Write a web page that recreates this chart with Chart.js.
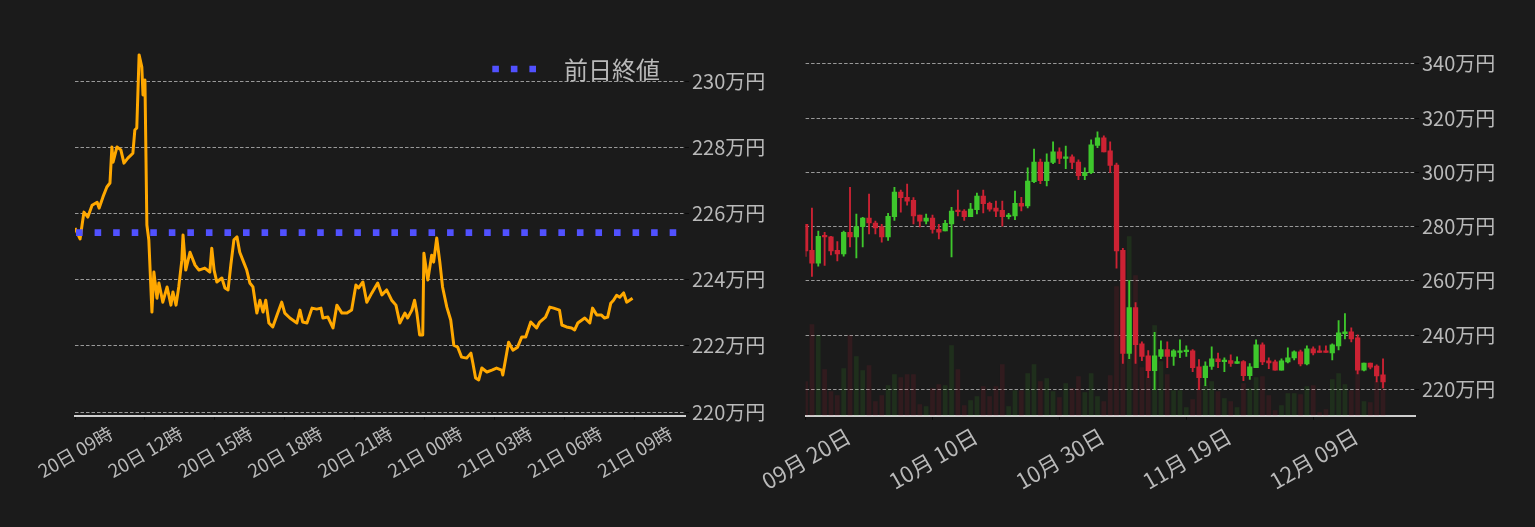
<!DOCTYPE html>
<html lang="ja">
<head>
<meta charset="utf-8">
<title>価格チャート</title>
<script src="https://cdn.jsdelivr.net/npm/chart.js@4.4.1/dist/chart.umd.min.js"></script>
<style>
  html, body { margin: 0; padding: 0; background: #1b1b1b; overflow: hidden; }
  #wrap { position: relative; width: 1535px; height: 527px; }
  canvas { position: absolute; left: 0; top: 0; width: 1535px; height: 527px; }
</style>
</head>
<body>
<div id="wrap">
  <canvas id="intraday" width="1535" height="527"></canvas>
  <canvas id="daily" width="1535" height="527"></canvas>
</div>
<script>
// === Intraday (20日 09時 〜 21日 09時), minutes after 20日 09:00 ===
const intradayMinutes = [
  0, 13, 23, 33, 44, 57, 62, 72, 82, 90,
  95, 98, 108, 118, 126, 136, 149, 154, 159, 165,
  172, 175, 180, 185, 190, 198, 203, 211, 216, 226,
  237, 247, 252, 260, 267, 275, 278, 285, 296, 309,
  319, 334, 347, 352, 358, 365, 378, 386, 394, 401,
  409, 417, 424, 435, 442, 450, 458, 468, 476, 484,
  491, 499, 509, 520, 532, 540, 553, 571, 579, 586,
  597, 610, 622, 633, 638, 651, 664, 674, 687, 700,
  712, 723, 730, 741, 751, 764, 779, 790, 802, 815,
  826, 836, 849, 856, 867, 874, 880, 887, 895, 898,
  908, 918, 923, 931, 939, 946, 957, 967, 975, 985,
  995, 1008, 1019, 1024, 1031, 1039, 1047, 1060, 1073, 1085,
  1098, 1101, 1111, 1116, 1127, 1139, 1150, 1160, 1173, 1188,
  1196, 1211, 1222, 1232, 1247, 1253, 1265, 1278, 1286, 1294,
  1312, 1325, 1332, 1343, 1355, 1363, 1371, 1379, 1386, 1394,
  1402, 1412, 1420, 1435
];
// price in 万円
const intradayPrices = [
  225.56, 225.23, 226.04, 225.89, 226.25, 226.34, 226.16, 226.50, 226.80, 226.92,
  228.01, 227.55, 228.01, 227.92, 227.52, 227.67, 227.82, 228.52, 228.58, 230.79,
  230.42, 229.58, 230.03, 225.65, 225.20, 223.02, 224.23, 223.44, 223.90, 223.32,
  223.78, 223.23, 223.63, 223.23, 223.78, 224.59, 225.35, 224.29, 224.83, 224.44,
  224.29, 224.35, 224.23, 224.95, 224.29, 223.93, 224.05, 223.75, 223.69, 224.44,
  225.20, 225.29, 224.83, 224.50, 224.29, 223.90, 223.78, 222.99, 223.38, 223.02,
  223.38, 222.69, 222.57, 222.93, 223.32, 222.99, 222.84, 222.69, 223.08, 222.72,
  222.69, 223.14, 223.11, 223.14, 222.84, 222.87, 222.54, 223.23, 222.99, 222.99,
  223.08, 223.84, 223.75, 223.93, 223.32, 223.60, 223.90, 223.54, 223.69, 223.38,
  223.23, 222.69, 222.99, 222.84, 223.08, 223.38, 222.99, 222.33, 222.33, 224.80,
  223.99, 224.74, 224.53, 225.26, 224.53, 223.78, 223.17, 222.78, 222.02, 221.96,
  221.66, 221.63, 221.78, 221.48, 221.03, 220.97, 221.33, 221.21, 221.27, 221.33,
  221.27, 221.12, 221.78, 222.11, 221.87, 221.96, 222.27, 222.27, 222.72, 222.54,
  222.72, 222.87, 223.17, 223.14, 223.08, 222.63, 222.57, 222.54, 222.48, 222.69,
  222.84, 222.69, 223.14, 222.93, 222.93, 222.84, 222.87, 223.29, 223.38, 223.53,
  223.47, 223.60, 223.32, 223.44
];
const prevClose = 225.42;
const prevCloseLabel = '前日終値';
const intradayTickMinutes = [0, 180, 360, 540, 720, 900, 1080, 1260, 1440];
const intradayTickLabels = ['20日 09時', '20日 12時', '20日 15時', '20日 18時', '20日 21時',
                            '21日 00時', '21日 03時', '21日 06時', '21日 09時'];
const intradayPriceTicks = [220, 222, 224, 226, 228, 230];

// === Daily candles, 09月20日 〜 12月20日 (万円) ===
const candleOpen = [
  280.85, 271.2, 266.5, 276.4, 276.2, 271.2, 269.9, 277.9, 276.2, 280.0,
  283.1, 281.3, 279.9, 276.2, 283.6, 292.7, 290.8, 289.7, 284.2, 282.0,
  283.1, 279.0, 278.4, 281.0, 285.7, 285.7, 283.6, 286.2, 291.2, 288.6,
  286.8, 286.0, 283.6, 283.9, 288.6, 287.6, 296.5, 303.8, 296.9, 303.6,
  307.5, 305.1, 305.7, 303.8, 298.8, 299.9, 309.9, 312.7, 307.9, 302.7,
  271.2, 233.2, 250.1, 236.8, 232.3, 226.9, 232.1, 234.6, 232.1, 233.6,
  233.9, 234.2, 228.3, 224.3, 228.4, 231.2, 230.2, 230.6, 229.5, 230.2,
  225.0, 228.0, 236.4, 230.5, 230.1, 227.1, 230.1, 231.6, 233.8, 229.4,
  234.9, 233.8, 233.8, 233.4, 236.0, 240.5, 241.2, 239.0, 227.1, 229.7,
  228.6, 225.3
];
const candleHigh = [
  280.85, 286.8, 278.3, 277.9, 276.4, 274.5, 278.3, 294.5, 284.6, 283.4,
  292.0, 282.0, 280.85, 284.9, 294.5, 293.4, 295.7, 290.7, 284.2, 284.6,
  284.2, 280.85, 282.3, 287.1, 293.4, 286.3, 288.6, 292.3, 293.4, 289.0,
  289.4, 289.4, 284.9, 293.1, 290.8, 301.6, 308.6, 304.9, 306.8, 311.2,
  309.0, 309.7, 306.4, 304.6, 301.6, 312.0, 314.9, 313.4, 311.2, 303.4,
  272.0, 260.1, 252.0, 237.5, 234.3, 240.97, 237.9, 237.5, 234.6, 238.2,
  236.0, 234.6, 231.0, 230.1, 235.7, 233.4, 231.6, 232.7, 231.96, 230.6,
  229.5, 238.2, 237.1, 231.6, 230.8, 231.2, 235.3, 234.2, 234.5, 236.0,
  235.7, 236.0, 236.0, 236.8, 245.3, 247.9, 242.7, 240.1, 229.7, 229.7,
  229.0, 231.2
];
const candleLow = [
  269.0, 261.6, 265.4, 265.7, 269.5, 267.3, 269.1, 272.5, 268.4, 272.5,
  277.3, 277.3, 274.2, 274.9, 282.3, 285.3, 287.9, 281.0, 279.9, 281.0,
  277.6, 275.4, 278.4, 268.8, 283.9, 282.3, 283.6, 284.7, 285.0, 285.7,
  283.6, 280.1, 282.8, 282.5, 285.8, 286.9, 296.2, 295.8, 295.0, 303.2,
  303.2, 301.3, 301.3, 297.3, 297.3, 299.5, 309.1, 307.5, 299.9, 264.7,
  229.5, 231.3, 229.5, 230.6, 224.3, 219.9, 231.3, 228.0, 228.8, 231.7,
  232.1, 226.5, 219.9, 221.3, 227.3, 228.0, 226.5, 228.4, 229.5, 223.2,
  223.6, 228.0, 229.1, 227.6, 227.1, 227.1, 229.7, 230.8, 228.6, 229.0,
  232.7, 233.6, 233.6, 230.8, 234.5, 238.6, 237.5, 225.7, 226.8, 227.5,
  222.7, 220.5
];
const candleClose = [
  270.97, 266.5, 276.4, 276.2, 271.0, 269.9, 277.9, 276.2, 280.0, 283.1,
  281.3, 279.5, 276.2, 283.8, 292.7, 290.6, 289.4, 283.9, 282.0, 283.1,
  278.9, 277.9, 281.2, 285.7, 285.5, 283.6, 286.4, 291.2, 288.4, 286.4,
  285.7, 283.6, 284.2, 288.6, 287.5, 296.8, 303.8, 296.9, 303.8, 307.5,
  305.1, 305.7, 303.6, 298.8, 299.9, 310.1, 312.7, 307.5, 302.5, 270.97,
  233.2, 250.1, 236.5, 232.1, 226.9, 232.3, 234.6, 232.1, 234.2, 234.2,
  234.2, 228.0, 224.3, 228.6, 231.2, 230.2, 230.6, 229.5, 230.2, 225.0,
  228.3, 236.4, 230.1, 229.7, 227.1, 230.5, 231.6, 233.8, 229.4, 234.9,
  233.4, 233.6, 233.6, 236.4, 240.8, 241.2, 238.6, 227.1, 229.7, 228.2,
  224.9, 222.7
];
const candleVolume = [
  34, 91, 80, 46, 24, 20, 47, 80, 59, 45,
  50, 14, 20, 30, 41, 38, 41, 41, 11, 9,
  27, 31, 30, 70, 46, 10, 15, 19, 29, 19,
  29, 51, 9, 25, 25, 42, 51, 34, 37, 24,
  18, 32, 27, 39, 23, 42, 19, 14, 40, 129,
  150, 179, 140, 48, 39, 90, 54, 41, 25, 25,
  8, 16, 39, 30, 34, 24, 17, 14, 8, 32,
  27, 38, 39, 20, 5, 10, 22, 22, 21, 29,
  30, 3, 6, 36, 42, 31, 25, 45, 14, 13,
  34, 38
];
const dayTickIndex = [0, 20, 40, 60, 80];
const dayTickLabels = ['09月 20日', '10月 10日', '10月 30日', '11月 19日', '12月 09日'];
const dailyPriceTicks = [220, 240, 260, 280, 300, 320, 340];

// === Shared styling ===
Chart.defaults.font.family = '"Noto Sans CJK JP", "Noto Sans", sans-serif';
const textColor = '#b9b9b9';
const gridColor = '#a8a8a8';
const upColor = '#3ec72c';
const downColor = '#cc2233';

// Right-hand price axis with dashed grid lines
function priceAxis(min, max, tickValues) {
  return {
    type: 'linear',
    position: 'right',
    min: min,
    max: max,
    afterBuildTicks: (scale) => { scale.ticks = tickValues.map(v => ({ value: v })); },
    afterFit: (scale) => { scale.width = 82; },
    border: { display: false, dash: [3.5, 2] },
    grid: { color: gridColor, lineWidth: 0.9, tickLength: 4, tickColor: '#0a0a0a', tickWidth: 1 },
    ticks: {
      padding: 3,
      color: textColor,
      font: { size: 20 },
      callback: (v) => v + '万円'
    }
  };
}

// Bottom axis with rotated labels centred on their ticks
function bottomAxis(max, tickValues, labels, fontSize, labelOffset, padding) {
  return {
    type: 'linear',
    min: 0,
    max: max,
    offset: false,
    afterBuildTicks: (scale) => { scale.ticks = tickValues.map(v => ({ value: v })); },
    afterFit: (scale) => { scale.height = 111.3; },
    border: { display: true, color: '#cfcfcf', width: 2 },
    grid: { offset: false, drawOnChartArea: false, tickLength: 4, tickColor: '#0a0a0a', tickWidth: 1 },
    ticks: {
      autoSkip: false,
      minRotation: 30,
      maxRotation: 30,
      labelOffset: labelOffset,
      padding: padding,
      color: textColor,
      font: { size: fontSize },
      callback: (v, i) => labels[i]
    }
  };
}

// Legend drawn inside the plot, top right
const prevCloseLegend = {
  id: 'prevCloseLegend',
  afterDatasetsDraw(chart) {
    const { ctx, chartArea } = chart;
    const ds = chart.data.datasets[0];
    const y = chartArea.top + 28;
    ctx.save();
    ctx.font = '24px "Noto Sans CJK JP"';
    ctx.fillStyle = textColor;
    ctx.textBaseline = 'middle';
    ctx.textAlign = 'right';
    const textRight = chartArea.right - 25;
    const textWidth = ctx.measureText(ds.label).width;
    ctx.fillText(ds.label, textRight, y + 1);
    const lineEnd = textRight - textWidth - 27.5;
    ctx.strokeStyle = ds.borderColor;
    ctx.lineWidth = ds.borderWidth;
    ctx.lineCap = 'butt';
    ctx.setLineDash(ds.borderDash);
    ctx.beginPath();
    ctx.moveTo(lineEnd - 44.2, y);
    ctx.lineTo(lineEnd, y);
    ctx.stroke();
    ctx.restore();
  }
};

// === Intraday line chart ===
const intradayMax = 1570;
new Chart(document.getElementById('intraday'), {
  type: 'line',
  data: {
    datasets: [{
      label: prevCloseLabel,
      data: [{ x: 0, y: prevClose }, { x: intradayMax, y: prevClose }],
      borderColor: '#5151ff',
      borderWidth: 6.6,
      borderDash: [6.6, 11.95],
      borderDashOffset: 17.5,
      borderCapStyle: 'butt',
      pointRadius: 0
    }, {
      label: 'price',
      data: intradayMinutes.map((m, i) => ({ x: m, y: intradayPrices[i] })),
      borderColor: '#ffa800',
      borderWidth: 3,
      borderJoinStyle: 'round',
      pointRadius: 0,
      tension: 0
    }]
  },
  options: {
    responsive: false,
    animation: false,
    devicePixelRatio: 1,
    layout: { padding: { left: 75, top: 41, right: 768, bottom: 0 } },
    scales: {
      x: bottomAxis(intradayMax, intradayTickMinutes, intradayTickLabels, 18.5, 36, 2),
      y: priceAxis(219.89, 231.21, intradayPriceTicks)
    },
    plugins: { legend: { display: false }, tooltip: { enabled: false } }
  },
  plugins: [prevCloseLegend]
});

// === Daily candlestick chart (floating bars) ===
const candleColor = candleOpen.map((o, i) => candleClose[i] >= o ? upColor : downColor);
const volumeColor = candleOpen.map((o, i) => candleClose[i] >= o ? 'rgba(62,199,44,0.12)' : 'rgba(204,34,51,0.13)');

new Chart(document.getElementById('daily'), {
  type: 'bar',
  data: {
    datasets: [{
      label: 'body',
      data: candleOpen.map((o, i) => ({ x: i, y: [o, candleClose[i]] })),
      backgroundColor: candleColor,
      barThickness: 4.6,
      minBarLength: 1.6,
      grouped: false,
      borderWidth: 0,
      yAxisID: 'y'
    }, {
      label: 'wick',
      data: candleOpen.map((o, i) => ({ x: i, y: [candleLow[i], candleHigh[i]] })),
      backgroundColor: candleColor,
      barThickness: 1.2,
      grouped: false,
      borderWidth: 0,
      yAxisID: 'y'
    }, {
      label: 'volume',
      data: candleVolume.map((v, i) => ({ x: i, y: v })),
      backgroundColor: volumeColor,
      barThickness: 4,
      grouped: false,
      borderWidth: 0,
      yAxisID: 'yv'
    }]
  },
  options: {
    responsive: false,
    animation: false,
    devicePixelRatio: 1,
    layout: { padding: { left: 805.6, top: 41, right: 38, bottom: 0 } },
    scales: {
      x: bottomAxis(96.04, dayTickIndex, dayTickLabels, 22, 43, 3),
      y: { ...priceAxis(210.27, 348.4, dailyPriceTicks), beginAtZero: false },
      yv: { type: 'linear', display: false, min: 0, max: 374.7 }
    },
    plugins: { legend: { display: false }, tooltip: { enabled: false } }
  }
});
</script>
</body>
</html>
